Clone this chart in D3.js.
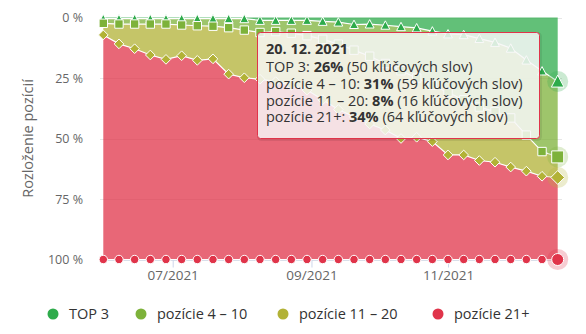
<!DOCTYPE html>
<html><head><meta charset="utf-8">
<script src="https://cdn.jsdelivr.net/npm/d3@7"></script>
<style>
body{margin:0;background:#fff;}
svg{display:block;font-family:"Open Sans",sans-serif;}
</style>
</head><body>
<svg id="chart" width="586" height="334"></svg>
<script>
// ---- data ----
const dates = ["2021-05-31","2021-06-07","2021-06-14","2021-06-21","2021-06-28","2021-07-05","2021-07-12","2021-07-19","2021-07-26","2021-08-02","2021-08-09","2021-08-16","2021-08-23","2021-08-30","2021-09-06","2021-09-13","2021-09-20","2021-09-27","2021-10-04","2021-10-11","2021-10-18","2021-10-25","2021-11-01","2021-11-08","2021-11-15","2021-11-22","2021-11-29","2021-12-06","2021-12-13","2021-12-20"];
const seriesNames = ["TOP 3","pozície 4 – 10","pozície 11 – 20","pozície 21+"];
const top3 =      [0.5,0.5,0.5,0.5,0.5,0.5,0.5,0.5,0.5,0.5,1.2,1.2,1.2,1.2,1.6,1.9,2.9,2.7,3.2,3.8,4.3,5.6,6.8,7.1,8.7,10.3,12.7,17.6,22.1,26.4];
const pos4to10 =  [1.9,2.2,2.2,2.2,2.2,2.6,2.9,3.1,3.7,4.7,5.0,4.6,5.3,6.3,7.4,9.1,10.6,13.3,15.8,18.2,20.7,22.4,24.2,26.9,28.3,28.6,28.8,31.0,33.3,31.2];
const pos11to20 = [4.8,8.2,10.2,12.8,14.6,12.7,14.3,13.5,19.2,19.7,19.3,20.7,21.5,22.5,25.0,27.0,27.5,28.0,27.5,28.0,24.5,23.3,25.8,22.8,22.1,20.9,20.3,14.9,10.2,8.5];
const pos21plus = [92.8,89.1,87.1,84.5,82.7,84.2,82.3,82.9,76.6,75.1,74.5,73.5,72.0,70.0,66.0,62.0,59.0,56.0,53.5,50.0,50.5,48.7,43.2,43.2,40.9,40.2,38.2,36.5,34.4,33.9];
const lastKeywordCounts = [50,59,16,64];
const tooltipDate = "20. 12. 2021";
const yTicks = [0,25,50,75,100];
const axisTitle = "Rozloženie pozícií";

// ---- styles ----
const colors = ["#2eab4b","#7db23a","#b2b236","#e0344a"];
const symbols = ["triangle","square","diamond","circle"];
const legendX = [53,141,283,438];

const svg = d3.select("#chart");
const parse = d3.timeParse("%Y-%m-%d");
const keys = ["s0","s1","s2","s3"];
const series = [top3,pos4to10,pos11to20,pos21plus];
const rows = dates.map((d,i)=>{
  const r = {date: parse(d)};
  keys.forEach((k,j)=> r[k] = series[j][i]);
  return r;
});
const stacked = d3.stack().keys(keys).offset(d3.stackOffsetExpand)(rows);

const plotL = 100, plotR = 562, plotT = 17.5, plotB = 259.5;
const x = d3.scaleTime().domain(d3.extent(rows, r=>r.date)).range([103.3, 557.7]);
const y = d3.scaleLinear().domain([0,1]).range([plotT, plotB]);

// gridlines
svg.append("g").selectAll("line").data(yTicks).join("line")
  .attr("x1",plotL).attr("x2",plotR)
  .attr("y1",d=>Math.round(y(d/100))+0.5).attr("y2",d=>Math.round(y(d/100))+0.5)
  .attr("stroke","#e6e6e6").attr("stroke-width",1);

// y labels
svg.append("g").selectAll("text").data(yTicks).join("text")
  .attr("x",83).attr("y",d=>y(d/100)+4.5)
  .attr("text-anchor","end").attr("fill","#666").attr("font-size","12.5px")
  .text(d=>d+" %");

// y title
svg.append("text")
  .attr("transform",`translate(33,${(plotT+plotB)/2}) rotate(-90)`)
  .attr("text-anchor","middle").attr("fill","#666").attr("font-size","14.5px")
  .text(axisTitle);

// x axis
const xAxis = d3.axisBottom(x).ticks(d3.timeMonth.every(2)).tickFormat(d3.timeFormat("%m/%Y")).tickSize(8).tickSizeOuter(0);
const gx = svg.append("g").attr("transform",`translate(0,${plotB})`).call(xAxis);
gx.select(".domain").remove();
gx.selectAll(".tick line").attr("stroke","#ccd6eb");
gx.selectAll(".tick text").attr("fill","#666").attr("font-size","13.5px").attr("font-family","Open Sans").attr("dy",null).attr("y",20.5);
svg.append("line").attr("x1",plotL).attr("x2",plotR).attr("y1",plotB+0.5).attr("y2",plotB+0.5).attr("stroke","#ccd6eb");

// areas
const area = d3.area().x(d=>x(d.data.date)).y0(d=>y(d[0])).y1(d=>y(d[1]));
const line = d3.line().x(d=>x(d.data.date)).y(d=>y(d[1]));
svg.append("g").selectAll("path").data(stacked).join("path")
  .attr("d",area).attr("fill",(d,i)=>colors[i]).attr("fill-opacity",0.75);

function symbolPath(type, r){
  if(type==="circle") return d3.symbol(d3.symbolCircle, Math.PI*r*r)();
  if(type==="square") return d3.symbol(d3.symbolSquare, (2*r)*(2*r))();
  if(type==="triangle") return `M0,${-r*1.05}L${r*1.05},${r*0.95}L${-r*1.05},${r*0.95}Z`;
  if(type==="diamond") return `M0,${-r*1.15}L${r*1.15},0L0,${r*1.15}L${-r*1.15},0Z`;
}

stacked.forEach((s,i)=>{
  const g = svg.append("g");
  g.append("path").attr("d",line(s)).attr("fill","none").attr("stroke","#fff").attr("stroke-width",1.2);
  const n = s.length;
  g.selectAll("path.m").data(s.slice(0,n-1)).join("path").attr("class","m")
    .attr("transform",d=>`translate(${x(d.data.date)},${y(d[1])})`)
    .attr("d",symbolPath(symbols[i],4.2))
    .attr("fill",colors[i]).attr("stroke","#fff").attr("stroke-width",1);
  const last = s[n-1];
  g.append("circle").attr("cx",x(last.data.date)).attr("cy",y(last[1])).attr("r",10.5)
    .attr("fill",colors[i]).attr("fill-opacity",0.25);
  g.append("path").attr("transform",`translate(${x(last.data.date)},${y(last[1])})`)
    .attr("d",symbolPath(symbols[i],6))
    .attr("fill",colors[i]).attr("stroke","#fff").attr("stroke-width",1);
});

// legend
const leg = svg.append("g").attr("font-size","14.5px").attr("font-weight","500").attr("fill","#333");
seriesNames.forEach((nm,i)=>{
  leg.append("circle").attr("cx",legendX[i]).attr("cy",314).attr("r",5.5).attr("fill",colors[i]);
  leg.append("text").attr("x",legendX[i]+16).attr("y",319).text(nm);
});

// tooltip
const total = d3.sum(lastKeywordCounts);
const tip = svg.append("g").attr("transform","translate(257.5,32.5)");
tip.append("rect").attr("x",1).attr("y",1).attr("width",282).attr("height",106).attr("rx",3)
  .attr("fill","none").attr("stroke","rgba(0,0,0,0.08)").attr("stroke-width",3);
tip.append("rect").attr("width",282).attr("height",106).attr("rx",3)
  .attr("fill","rgba(247,247,247,0.85)").attr("stroke",colors[3]).attr("stroke-width",1);
tip.append("text").attr("x",8.5).attr("y",21.5).attr("font-size","14.5px").attr("fill","#333")
  .attr("font-weight","bold").text(tooltipDate);

function measure(str, weight){
  const t = tip.append("text").attr("font-size","14.5px").attr("font-weight",weight).text(str);
  const w = t.node().getComputedTextLength();
  t.remove();
  return w;
}
const spaceW = measure("a a","normal") - measure("aa","normal");
seriesNames.forEach((nm,i)=>{
  const pct = Math.round(lastKeywordCounts[i]/total*100);
  const segs = [[nm+":","normal"],[pct+"%","bold"],["("+lastKeywordCounts[i]+" kľúčových slov)","normal"]];
  let cx = 8.5;
  segs.forEach(([str,wt])=>{
    const t = tip.append("text").attr("x",cx).attr("y",39.5+i*16.8)
      .attr("font-size","14.5px").attr("font-weight",wt).attr("fill","#333").text(str);
    cx += t.node().getComputedTextLength() + spaceW;
  });
});
</script>
</body></html>
